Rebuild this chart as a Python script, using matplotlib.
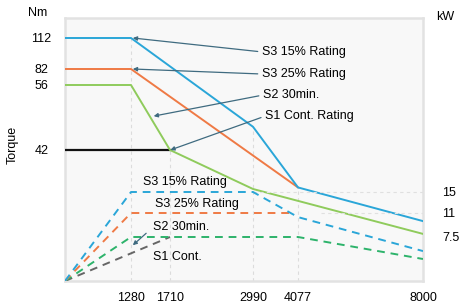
import numpy as np
import matplotlib.pyplot as plt

plt.rcParams['font.family'] = ['Liberation Sans', 'DejaVu Sans']

# ---- data ----
rpm_ticks = [1280, 1710, 2990, 4077, 8000]
torque_ticks = [42, 56, 82, 112]
kw_ticks = [7.5, 11, 15]
kw_tick_labels = ['7.5', '11', '15']

# torque curves (rpm, Nm)
s3_15_rpm = [0, 1280, 2990, 4077, 8000]
s3_15_nm = [112, 112, 47, 30, 19.2]
s3_25_rpm = [0, 1280, 4077]
s3_25_nm = [82, 82, 30]
s2_rpm = [0, 1280, 1710, 2990, 8000]
s2_nm = [56, 56, 42, 29.5, 15.1]
s1_rpm = [0, 1710]
s1_nm = [42, 42]

# power curves (rpm, kW)
p_s3_15_rpm = [0, 1280, 2990, 4077, 8000]
p_s3_15_kw = [0, 15, 15, 10.4, 5.1]
p_s3_25_rpm = [0, 1280, 3950]
p_s3_25_kw = [0, 11, 11]
p_s2_rpm = [0, 1280, 4077, 8000]
p_s2_kw = [0, 7.5, 7.5, 3.75]
p_s1_rpm = [0, 1710]
p_s1_kw = [0, 7.5]

# ---- schematic (non-linear) axis scales ----
X_VAL = [0, 1280, 1710, 2990, 4077, 8000]
X_POS = [0, 66, 105, 188, 233, 358]
T_VAL = [0, 42, 56, 82, 112, 120]
T_POS = [0, 131, 196, 212, 243, 263]
P_VAL = [0, 7.5, 11, 15, 40]
P_POS = [0, 44, 68, 89, 263]


def mk(vals, pos):
    return (lambda v: np.interp(v, vals, pos),
            lambda p: np.interp(p, pos, vals))


BLUE = '#2aa6d8'
ORANGE = '#ef7a45'
LGREEN = '#8fcb5c'
DGREEN = '#2db36b'
GRAY = '#666666'
ARROW = '#3f6b80'

fig = plt.figure(figsize=(4.61, 3.06), dpi=100)
ax = fig.add_axes([65 / 461, 1 - 281 / 306, 358 / 461, 263 / 306])
ax.set_xscale('function', functions=mk(X_VAL, X_POS))
ax.set_yscale('function', functions=mk(T_VAL, T_POS))
ax.set_xlim(0, 8000)
ax.set_ylim(0, 120)
ax.set_facecolor('#f8f8f8')
for s in ax.spines.values():
    s.set_color('#e2e2e2')
    s.set_linewidth(1.8)

ax2 = ax.twinx()
ax2.set_yscale('function', functions=mk(P_VAL, P_POS))
ax2.set_ylim(0, 40)
for s in ax2.spines.values():
    s.set_visible(False)

# light guide lines
for r, t in zip([1280, 1710, 2990, 4077], [112, 42, 47, 30]):
    ax.plot([r, r], [0, t], color='#dcdcdc', lw=0.8, ls=(0, (3, 3)), zorder=1)
ax2.plot([2990, 8000], [15, 15], color='#e0e0e0', lw=0.8, ls=(0, (3, 3)), zorder=1)
ax2.plot([4800, 8000], [11, 11], color='#e0e0e0', lw=0.8, ls=(0, (3, 3)), zorder=1)

# torque curves
ax.plot(s1_rpm, s1_nm, color='#111111', lw=1.6, zorder=3)
ax.plot(s2_rpm, s2_nm, color=LGREEN, lw=1.4, zorder=3)
ax.plot(s3_25_rpm, s3_25_nm, color=ORANGE, lw=1.4, zorder=3)
ax.plot(s3_15_rpm, s3_15_nm, color=BLUE, lw=1.4, zorder=3)

# power curves
dash = (0, (4, 3))
ax2.plot(p_s1_rpm, p_s1_kw, color=GRAY, lw=1.4, ls=dash)
ax2.plot(p_s2_rpm, p_s2_kw, color=DGREEN, lw=1.4, ls=dash)
ax2.plot(p_s3_25_rpm, p_s3_25_kw, color=ORANGE, lw=1.4, ls=dash)
ax2.plot(p_s3_15_rpm, p_s3_15_kw, color=BLUE, lw=1.4, ls=dash)

# ticks
ax.set_xticks(rpm_ticks)
ax.set_xticklabels([str(v) for v in rpm_ticks])
ax.set_yticks(torque_ticks)
ax.set_yticklabels([str(v) for v in torque_ticks])
ax.minorticks_off()
ax.tick_params(axis='x', length=0, pad=8, labelsize=9)
ax.tick_params(axis='y', length=0, pad=17, labelsize=9)
for lab in ax.get_yticklabels():
    lab.set_horizontalalignment('center')
ax2.set_yticks(kw_ticks)
ax2.set_yticklabels(kw_tick_labels)
ax2.minorticks_off()
ax2.tick_params(axis='y', length=0, pad=14, labelsize=9)

# annotations (torque side)
ap = dict(arrowstyle='-|>', color=ARROW, lw=0.9, mutation_scale=6,
          shrinkA=1, shrinkB=0, relpos=(0, 0.5))
labels_top = [('S3 15% Rating', (1300, 112), (0.550, 0.871)),
              ('S3 25% Rating', (1300, 82), (0.550, 0.787)),
              ('S2 30min.', (1530, 49.3), (0.553, 0.707)),
              ('S1 Cont. Rating', (1715, 42), (0.559, 0.627))]
for txt, xy, xyt in labels_top:
    ax.annotate(txt, xy=xy, xytext=xyt, textcoords='axes fraction',
                fontsize=9, va='center', ha='left', arrowprops=ap, zorder=5)

# annotations (power side)
ax.text(0.218, 0.376, 'S3 15% Rating', transform=ax.transAxes, fontsize=9, va='center')
ax.text(0.251, 0.293, 'S3 25% Rating', transform=ax.transAxes, fontsize=9, va='center')
ax2.annotate('S2 30min.', xy=(1300, 6.1), xytext=(0.246, 0.205),
             textcoords='axes fraction', fontsize=9, va='center', ha='left',
             arrowprops=dict(ap, shrinkA=4))
ax.text(0.246, 0.091, 'S1 Cont.', transform=ax.transAxes, fontsize=9, va='center')

fig.text(38 / 461, 1 - 13 / 306, 'Nm', fontsize=9, ha='center', va='center')
fig.text(445 / 461, 1 - 17 / 306, 'kW', fontsize=9, ha='center', va='center')
fig.text(13 / 461, 1 - 145 / 306, 'Torque', fontsize=9, rotation=90,
         ha='center', va='center')

fig.savefig('out.png', dpi=100)
